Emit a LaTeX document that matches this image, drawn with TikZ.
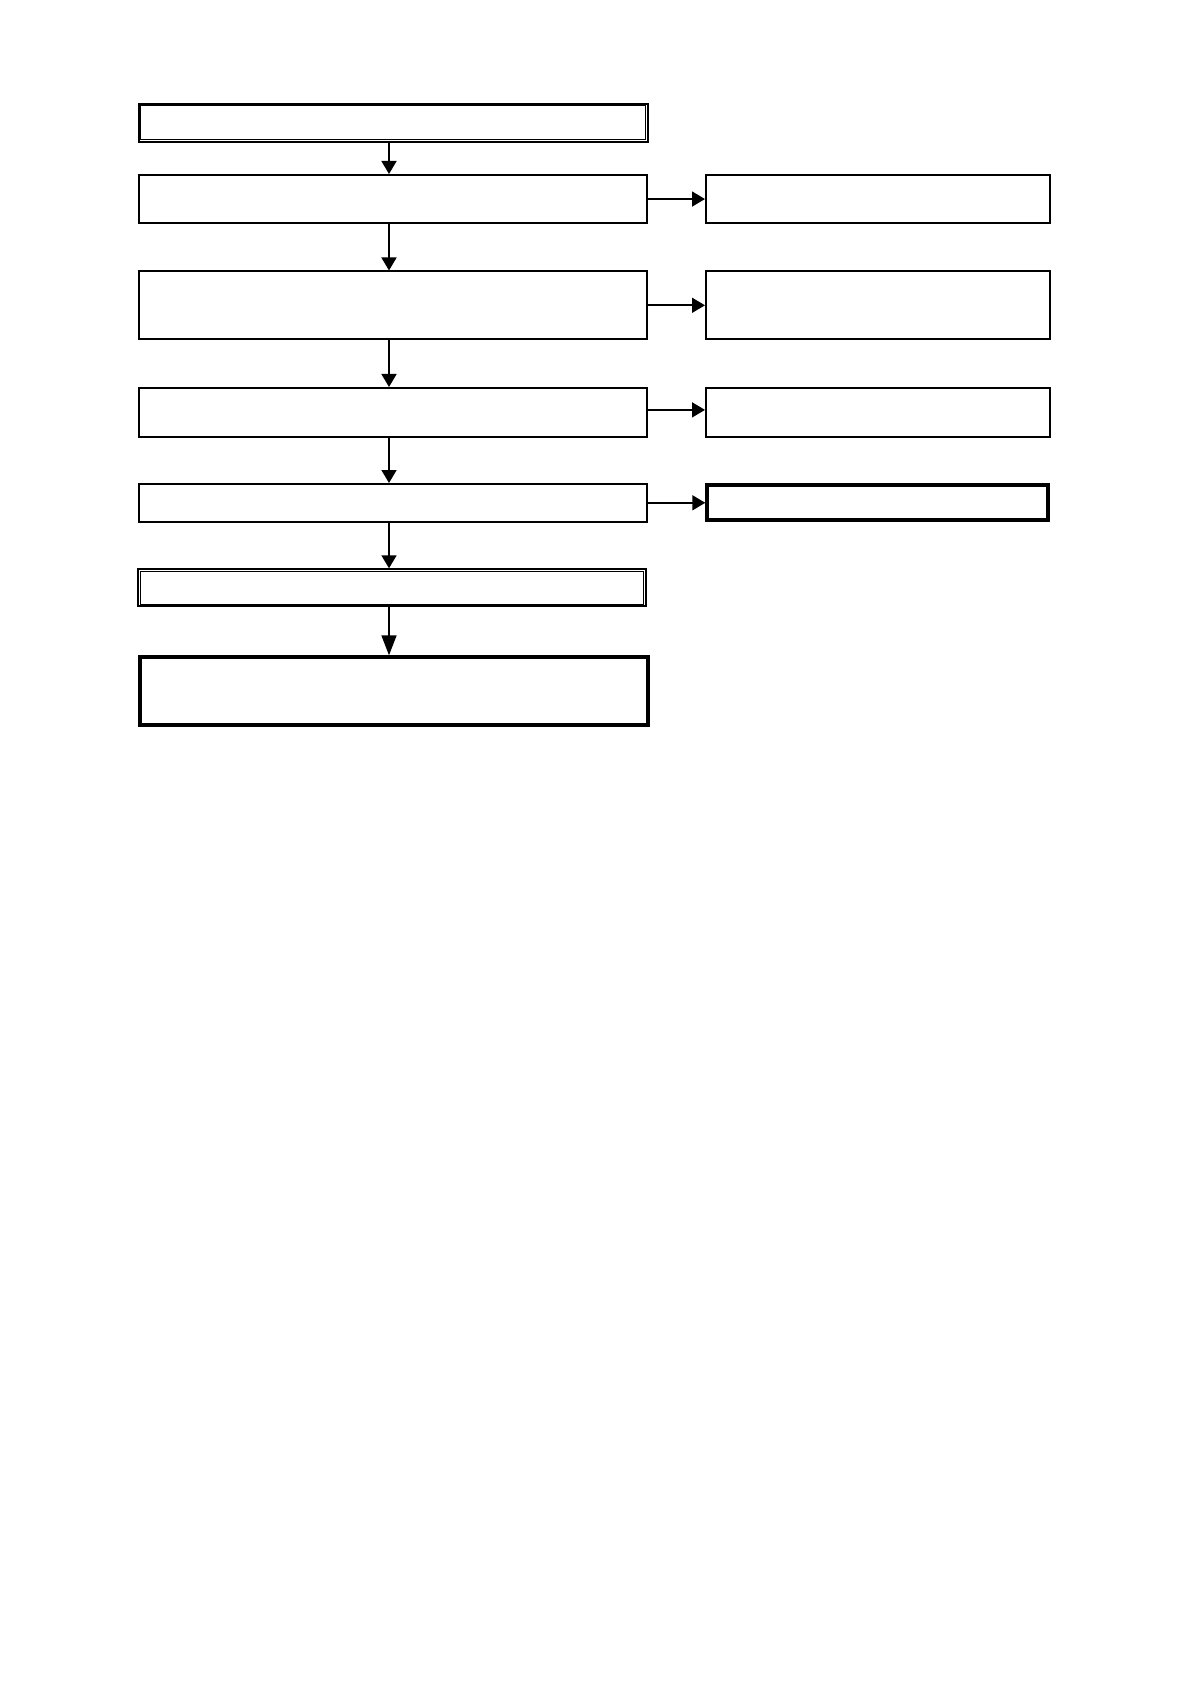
\documentclass[tikz,border=0pt]{standalone}
\usetikzlibrary{arrows.meta}
\begin{document}
\begin{tikzpicture}[x=0.5pt,y=-0.5pt,
 box/.style={draw=black,line width=0.8pt,inner sep=0pt,outer sep=0.4pt,anchor=north west},
 dbox/.style={draw=black,line width=1pt,inner sep=0pt,outer sep=0.5pt,anchor=north west},
 innerline/.style={draw=black,line width=0.5pt},
 tbox/.style={draw=black,line width=2pt,inner sep=0pt,outer sep=1pt,anchor=north west},
 arr/.style={line width=0.8pt,-{Triangle[length=6.5pt,width=7.5pt]}},
 arrlong/.style={line width=0.8pt,-{Triangle[length=10pt,width=7.5pt]}}
]
\useasboundingbox (0,0) rectangle (1191,1684);
\coordinate (sp) at (389,0);
% main column
\node[dbox,minimum width=254.3pt,minimum height=18.85pt] (A) at (138,103) {};
\node[box,minimum width=254pt,minimum height=24.25pt] (B) at (138.3,174) {};
\node[box,minimum width=254pt,minimum height=34pt] (C) at (138.3,270.5) {};
\node[box,minimum width=254pt,minimum height=24.5pt] (D) at (138.3,387) {};
\node[box,minimum width=254pt,minimum height=19pt] (E) at (138.3,483) {};
\node[dbox,minimum width=253.65pt,minimum height=18.5pt] (F) at (137.4,568.3) {};
\node[tbox,minimum width=254pt,minimum height=33.85pt] (G) at (137.6,655.3) {};
% inner lines of the double frames
\draw[innerline] ([shift={(1.4pt,-1.4pt)}]A.north west) rectangle ([shift={(-1.4pt,1.4pt)}]A.south east);
\draw[innerline] ([shift={(1.4pt,-1.4pt)}]F.north west) rectangle ([shift={(-1.4pt,1.4pt)}]F.south east);
% right column
\node[box,minimum width=172pt,minimum height=24.25pt] (R1) at (705,174) {};
\node[box,minimum width=172pt,minimum height=34pt] (R2) at (705,270.5) {};
\node[box,minimum width=172pt,minimum height=24.5pt] (R3) at (705,387) {};
\node[tbox,minimum width=170.5pt,minimum height=17.4pt] (R4) at (705.3,483.2) {};
% vertical connectors
\draw[arr] (A.south -| sp) -- (B.north -| sp);
\draw[arr] (B.south -| sp) -- (C.north -| sp);
\draw[arr] (C.south -| sp) -- (D.north -| sp);
\draw[arr] (D.south -| sp) -- (E.north -| sp);
\draw[arr] (E.south -| sp) -- (F.north -| sp);
\draw[arrlong] (F.south -| sp) -- (G.north -| sp);
% horizontal connectors
\draw[arr] (B.east) -- (B.east -| R1.west);
\draw[arr] (C.east) -- (C.east -| R2.west);
\draw[arr] ([yshift=1.2pt]D.east) -- ([yshift=1.2pt]D.east -| R3.west);
\draw[arr] (E.east) -- (E.east -| R4.west);
\end{tikzpicture}
\end{document}
